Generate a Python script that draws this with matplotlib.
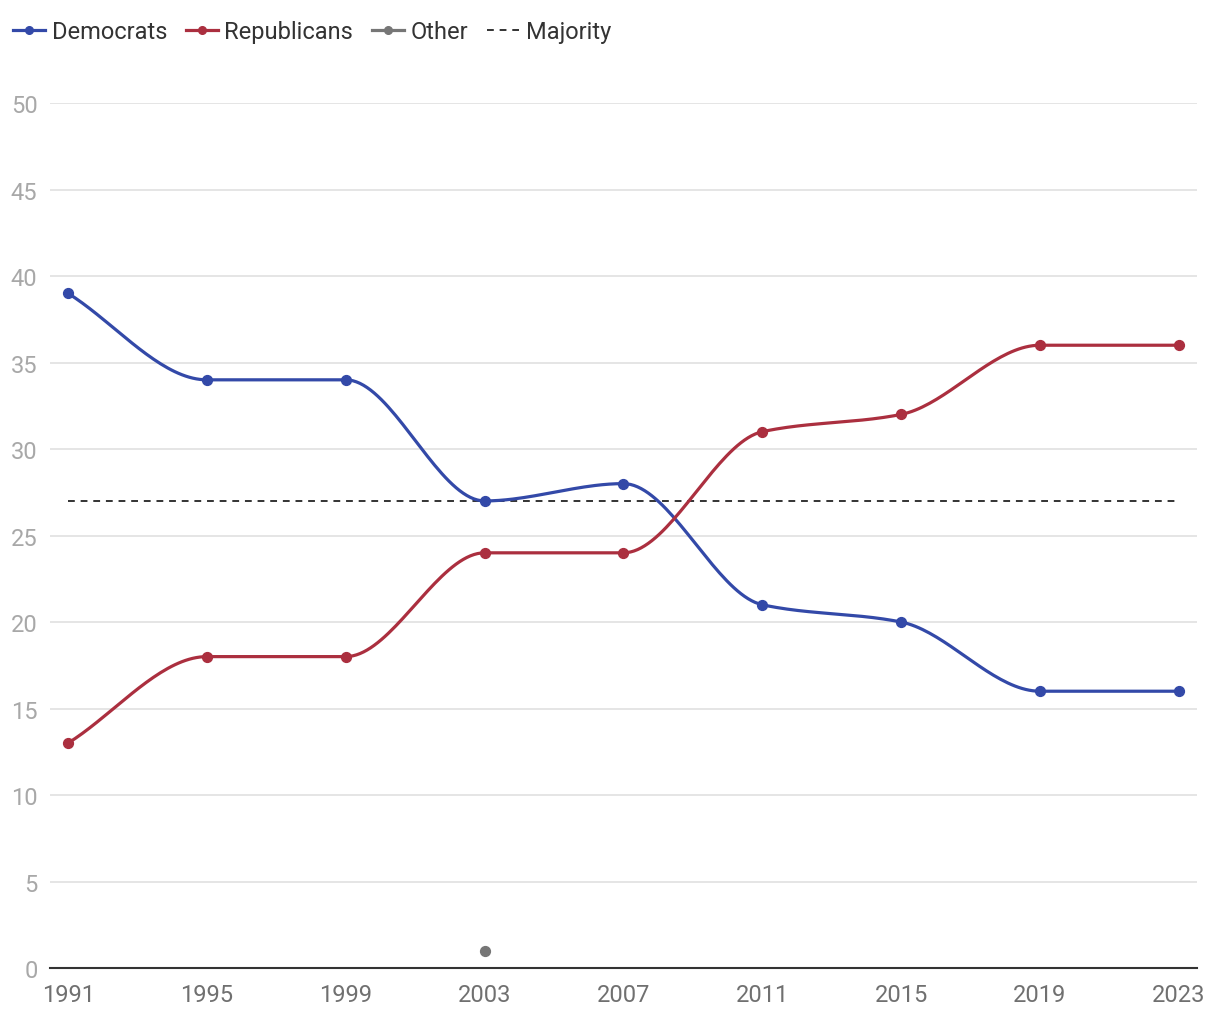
import numpy as np
import matplotlib.pyplot as plt
from matplotlib.lines import Line2D

plt.rcParams['font.family'] = ['Roboto', 'DejaVu Sans']

years = [1991, 1995, 1999, 2003, 2007, 2011, 2015, 2019, 2023]
democrats = [39, 34, 34, 27, 28, 21, 20, 16, 16]
republicans = [13, 18, 18, 24, 24, 31, 32, 36, 36]
other_years = [2003]
other = [1]
majority = 27

blue = "#3349a8"
red = "#ab2f3f"
gray = "#767676"


def monotone(x, y, n=40):
    # monotone cubic (Fritsch-Carlson) for smooth curve through points
    x = np.asarray(x, float)
    y = np.asarray(y, float)
    h = np.diff(x)
    d = np.diff(y) / h
    m = np.zeros_like(y)
    m[0], m[-1] = d[0], d[-1]
    for i in range(1, len(y) - 1):
        if d[i - 1] * d[i] <= 0:
            m[i] = 0
        else:
            w1 = 2 * h[i] + h[i - 1]
            w2 = h[i] + 2 * h[i - 1]
            m[i] = (w1 + w2) / (w1 / d[i - 1] + w2 / d[i])
    xs, ys = [], []
    for i in range(len(x) - 1):
        t = np.linspace(0, 1, n)
        h00 = 2 * t**3 - 3 * t**2 + 1
        h10 = t**3 - 2 * t**2 + t
        h01 = -2 * t**3 + 3 * t**2
        h11 = t**3 - t**2
        xs.append(x[i] + t * h[i])
        ys.append(h00 * y[i] + h10 * h[i] * m[i] + h01 * y[i + 1] + h11 * h[i] * m[i + 1])
    return np.concatenate(xs), np.concatenate(ys)


fig = plt.figure(figsize=(12.2, 10.2), dpi=100)
ax = fig.add_axes([0.041, 0.05, 0.94, 0.848])

for vals, c in [(democrats, blue), (republicans, red)]:
    sx, sy = monotone(years, vals)
    ax.plot(sx, sy, color=c, lw=2.3, zorder=3, solid_capstyle='round')
    ax.scatter(years, vals, color=c, s=50, zorder=4)

ax.scatter(other_years, other, color=gray, s=50, zorder=4)
ax.plot([years[0], years[-1]], [majority, majority], color="#333333", lw=1.4,
        ls=(0, (3.5, 3)), zorder=2)

ax.set_xlim(1990.48, 2023.52)
ax.set_ylim(0, 50)
ax.set_xticks(years)
ax.set_yticks(range(0, 51, 5))
ax.grid(axis='y', color="#e3e3e3", lw=1.3)
ax.set_axisbelow(True)
for s in ['top', 'right', 'left']:
    ax.spines[s].set_visible(False)
ax.spines['bottom'].set_color("#333333")
ax.spines['bottom'].set_linewidth(1.5)
ax.tick_params(axis='y', length=0, pad=9, labelsize=17, labelcolor="#a8a8a8")
ax.tick_params(axis='x', length=0, pad=11, labelsize=17, labelcolor="#707070")

handles = [
    Line2D([], [], color=blue, lw=2.3, marker='o', ms=5.5),
    Line2D([], [], color=red, lw=2.3, marker='o', ms=5.5),
    Line2D([], [], color=gray, lw=2.3, marker='o', ms=5.5),
    Line2D([], [], color="#333333", lw=1.4, ls=(0, (3.5, 3))),
]
fig.legend(handles, ["Democrats", "Republicans", "Other", "Majority"],
           loc='upper left', bbox_to_anchor=(-0.0066, 1.0), ncol=4, frameon=False,
           fontsize=17, handlelength=1.35, handletextpad=0.28, columnspacing=0.8,
           labelcolor="#333333")

fig.savefig("out.png", dpi=100)
